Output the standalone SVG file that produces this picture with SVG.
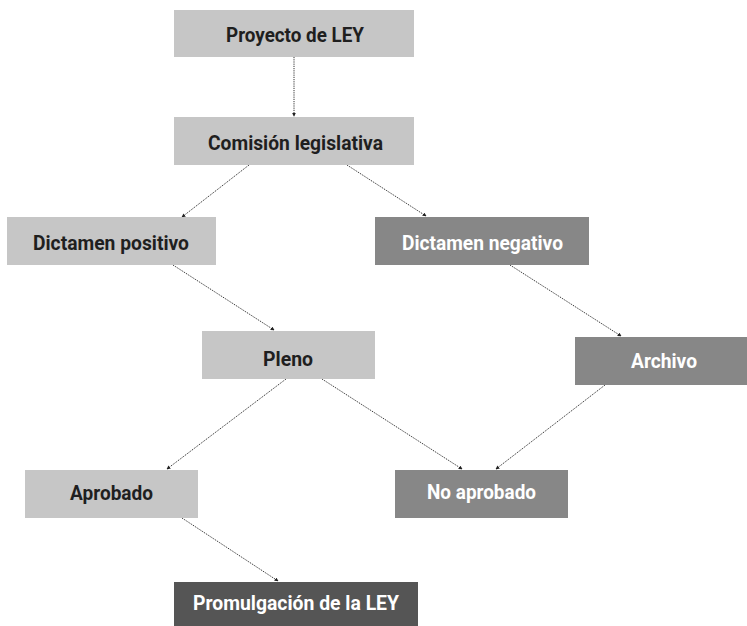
<svg xmlns="http://www.w3.org/2000/svg" width="747" height="626" viewBox="0 0 747 626">
<defs>
<marker id="ah" viewBox="0 0 6 6" refX="5" refY="3" markerWidth="4" markerHeight="4" orient="auto" markerUnits="userSpaceOnUse">
<path d="M0,0 L6,3 L0,6 z" fill="#222"/>
</marker>
<style>
.light{fill:#c6c6c6}
.mid{fill:#878787}
.dark{fill:#555555}
text{font-family:"Roboto","Liberation Sans",sans-serif;font-weight:bold;font-size:20px;text-anchor:middle}
.tl{fill:#1f1f1f}
.tw{fill:#ffffff}
.c{stroke:#333;stroke-width:1;stroke-dasharray:1.2 1;fill:none;marker-end:url(#ah)}
</style>
</defs>
<rect width="747" height="626" fill="#ffffff"/>
<g id="connectors">
<line class="c" x1="294" y1="57" x2="294" y2="116"/>
<line class="c" x1="249" y1="165" x2="182" y2="217"/>
<line class="c" x1="347" y1="165" x2="426" y2="216"/>
<line class="c" x1="173" y1="265" x2="274" y2="330"/>
<line class="c" x1="510" y1="265" x2="621" y2="336"/>
<line class="c" x1="286" y1="379" x2="167" y2="469"/>
<line class="c" x1="322" y1="379" x2="462" y2="469"/>
<line class="c" x1="605" y1="385" x2="496" y2="469"/>
<line class="c" x1="182" y1="518" x2="278" y2="581"/>
</g>
<g id="proyecto"><rect class="light" x="174" y="10" width="240" height="47"/><text class="tl" x="295" y="42" textLength="138" lengthAdjust="spacingAndGlyphs">Proyecto de LEY</text></g>
<g id="comision"><rect class="light" x="174" y="117" width="240" height="48"/><text class="tl" x="295.5" y="150" textLength="175" lengthAdjust="spacingAndGlyphs">Comisión legislativa</text></g>
<g id="dictamen-positivo"><rect class="light" x="7" y="217" width="209" height="48"/><text class="tl" x="111" y="250" textLength="156" lengthAdjust="spacingAndGlyphs">Dictamen positivo</text></g>
<g id="dictamen-negativo"><rect class="mid" x="375" y="217" width="214" height="48"/><text class="tw" x="482.5" y="250" textLength="161" lengthAdjust="spacingAndGlyphs">Dictamen negativo</text></g>
<g id="archivo"><rect class="mid" x="575" y="337" width="172" height="48"/><text class="tw" x="664" y="368" textLength="66" lengthAdjust="spacingAndGlyphs">Archivo</text></g>
<g id="pleno"><rect class="light" x="202" y="331" width="173" height="48"/><text class="tl" x="288" y="366" textLength="50" lengthAdjust="spacingAndGlyphs">Pleno</text></g>
<g id="aprobado"><rect class="light" x="25" y="470" width="173" height="48"/><text class="tl" x="111.5" y="500" textLength="83" lengthAdjust="spacingAndGlyphs">Aprobado</text></g>
<g id="no-aprobado"><rect class="mid" x="395" y="470" width="173" height="48"/><text class="tw" x="481.5" y="499" textLength="109" lengthAdjust="spacingAndGlyphs">No aprobado</text></g>
<g id="promulgacion"><rect class="dark" x="174" y="582" width="244" height="48"/><text class="tw" x="296" y="610" textLength="206" lengthAdjust="spacingAndGlyphs">Promulgación de la LEY</text></g>
</svg>
